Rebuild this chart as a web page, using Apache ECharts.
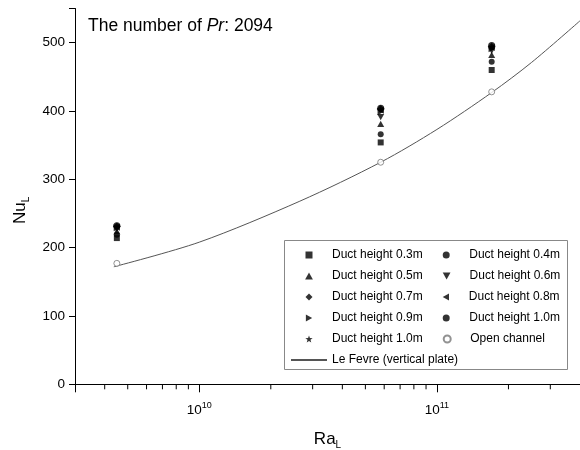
<!DOCTYPE html>
<html>
<head>
<meta charset="utf-8">
<script src="https://cdn.jsdelivr.net/npm/echarts@6/dist/echarts.min.js"></script>
<style>
html, body { margin: 0; padding: 0; background: #fff; }
#chart { width: 580px; height: 450px; }
</style>
</head>
<body>
<div id="chart"></div>
<script>
// Ra_L positions of the three measurement groups
var ra = [4.5e9, 5.8e10, 1.7e11];
var nu03 = [214, 354, 460];
var nu04 = [219, 366, 472];
var nu05 = [224, 381, 482];
var nu06 = [227, 391, 488];
var nu07 = [231, 403, 494];
var nu08 = [230, 401, 493];
var nu09 = [229, 399, 491];
var nu10 = [232, 404, 496];
var nu10b = [231, 402, 494];
var openChannel = [177, 325, 428];

// Le Fevre curve
var lefevreRa = [4.37e9, 1e10, 2.65e10, 5.8e10, 1e11, 1.7e11, 2.5e11, 4e11];
var lefevreNu = [172, 208, 268, 325, 373, 427, 471, 532];

var minorTicks = [4e9, 5e9, 6e9, 7e9, 8e9, 9e9, 2e10, 3e10, 4e10, 5e10, 6e10, 7e10, 8e10, 9e10, 2e11, 3e11];

var font = 'Liberation Sans, Arial, sans-serif';

function pairs(xs, ys) {
    return xs.map(function (x, i) { return [x, ys[i]]; });
}

function marker(name, values, symbol, size) {
    return {
        name: name,
        type: 'scatter',
        data: pairs(ra, values),
        symbol: symbol,
        symbolSize: size,
        symbolKeepAspect: true,
        itemStyle: { color: '#000' },
        z: 5
    };
}

var star = 'path://M50,0 L61.8,33.8 L97.6,34.5 L69,56.2 L79.4,90.5 L50,70 L20.6,90.5 L31,56.2 L2.4,34.5 L38.2,33.8 Z';
var square = 'path://M0,0 L10,0 L10,10 L0,10 Z';
var triUp = 'path://M5,0 L10,9 L0,9 Z';
var triDown = 'path://M0,0 L10,0 L5,9 Z';
var diamond = 'path://M5,0 L10,5 L5,10 L0,5 Z';
var triLeft = 'path://M0,5 L9,0 L9,10 Z';
var triRight = 'path://M0,0 L9,5 L0,10 Z';

var names = ['Duct height 0.3m', 'Duct height 0.4m', 'Duct height 0.5m', 'Duct height 0.6m',
    'Duct height 0.7m', 'Duct height 0.8m', 'Duct height 0.9m', 'Duct height 1.0m',
    'Duct height 1.0m\u200b', 'Open channel', 'Le Fevre (vertical plate)'];

var legendData = names.map(function (n, i) {
    if (i === 10) {
        return { name: n, itemStyle: { color: 'rgba(0,0,0,0)', borderColor: 'rgba(0,0,0,0)', borderWidth: 0 } };
    }
    return { name: n };
});

var myChart = echarts.init(document.getElementById('chart'));
var option = {
    animation: false,
    textStyle: { fontFamily: font },
    grid: { left: 75, right: 0, top: 8.5, bottom: 65.7, outerBoundsMode: 'none', containLabel: false },
    graphic: [{
        type: 'text',
        left: 88,
        top: 17,
        style: {
            text: 'The number of {i|Pr}: 2094',
            font: '17.5px ' + font,
            fill: '#000',
            rich: { i: { fontStyle: 'italic', fontSize: 17.5, fontFamily: font } }
        }
    }, {
        // legend frame
        type: 'rect',
        z: 1,
        shape: { x: 284.5, y: 240.5, width: 283, height: 129 },
        style: { fill: '#fff', stroke: '#888', lineWidth: 1 }
    }],
    legend: {
        data: legendData,
        left: 284,
        top: 240,
        width: 300,
        orient: 'horizontal',
        itemWidth: 36,
        itemHeight: 7,
        itemGap: 6,
        padding: [7.5, 0, 0, 6],
        borderWidth: 0,
        selectedMode: false,
        z: 4,
        textStyle: { fontSize: 12, fontFamily: font, color: '#000', lineHeight: 15, padding: [0, 14, 0, 0] }
    },
    xAxis: {
        type: 'log',
        logBase: 10,
        min: 3e9,
        max: 4e11,
        name: 'Ra{sub|L}',
        nameLocation: 'middle',
        nameGap: 44,
        nameTextStyle: {
            fontSize: 17, color: '#000', fontFamily: font,
            rich: { sub: { fontSize: 10, verticalAlign: 'bottom', padding: [12, 0, 0, 0] } }
        },
        axisLine: { lineStyle: { color: '#000', width: 1 } },
        axisTick: { length: 8, lineStyle: { color: '#000' } },
        splitLine: { show: false },
        axisLabel: {
            margin: 17,
            color: '#000',
            fontSize: 13.5,
            showMinLabel: true,
            showMaxLabel: true,
            formatter: function (v) {
                var e = Math.log(v) / Math.LN10;
                var r = Math.round(e);
                if (Math.abs(e - r) < 1e-6) return '10{sup|' + r + '}';
                return '';
            },
            rich: { sup: { fontSize: 9, verticalAlign: 'top', padding: [0, 0, 8, 0] } }
        }
    },
    yAxis: {
        type: 'value',
        min: 0,
        max: 550,
        interval: 100,
        name: 'Nu{sub|L}',
        nameLocation: 'middle',
        nameRotate: 90,
        nameGap: 40,
        nameTextStyle: {
            fontSize: 17, color: '#000', fontFamily: font,
            padding: [0, 28, 0, 0],
            rich: { sub: { fontSize: 10, verticalAlign: 'bottom', padding: [12, 0, 0, 0] } }
        },
        axisLine: { show: true, lineStyle: { color: '#000', width: 1 } },
        axisTick: { show: true, length: 6, lineStyle: { color: '#000' } },
        splitLine: { show: false },
        axisLabel: {
            margin: 10,
            color: '#000',
            fontSize: 13.5,
            formatter: function (v) { return v % 100 === 0 ? String(v) : ''; }
        }
    },
    series: [
        marker(names[0], nu03, square, 6),
        marker(names[1], nu04, 'circle', 6),
        marker(names[2], nu05, triUp, 7),
        marker(names[3], nu06, triDown, 7),
        marker(names[4], nu07, diamond, 8),
        marker(names[5], nu08, triLeft, 7),
        marker(names[6], nu09, triRight, 7),
        marker(names[7], nu10, 'circle', 7),
        marker(names[8], nu10b, star, 7),
        {
            name: names[9],
            type: 'scatter',
            data: pairs(ra, openChannel),
            symbol: 'circle',
            symbolSize: 6,
            itemStyle: { color: '#fff', borderColor: '#777', borderWidth: 1 },
            z: 6
        },
        {
            name: names[10],
            type: 'line',
            data: pairs(lefevreRa, lefevreNu),
            smooth: 0.3,
            symbol: 'none',
            showSymbol: false,
            color: '#555',
            lineStyle: { color: '#555', width: 1 },
            z: 3
        },
        {
            // minor ticks of the log axis
            type: 'custom',
            silent: true,
            clip: false,
            data: minorTicks.map(function (v) { return [v, 0]; }),
            renderItem: function (params, api) {
                var p = api.coord([api.value(0), 0]);
                return {
                    type: 'line',
                    shape: { x1: p[0], y1: p[1], x2: p[0], y2: p[1] + 5 },
                    style: { stroke: '#000', lineWidth: 1 }
                };
            },
            z: 2
        }
    ]
};
myChart.setOption(option);
</script>
</body>
</html>
